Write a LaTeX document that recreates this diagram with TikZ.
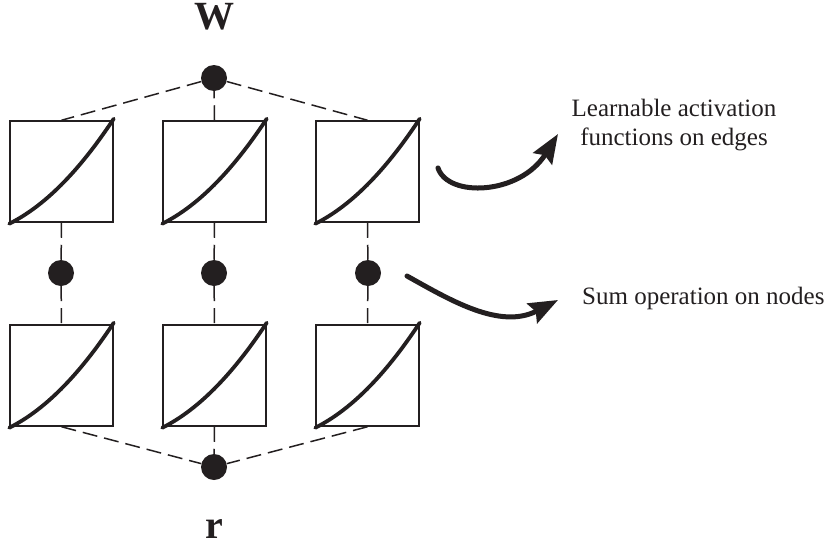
\documentclass[tikz,border=0pt]{standalone}
\usepackage{fontspec}
\setmainfont{Liberation Serif}
\usetikzlibrary{arrows.meta,calc}
\definecolor{ink}{RGB}{35,31,32}
\begin{document}
\begin{tikzpicture}[x=1pt,y=-1pt,
  every node/.style={text=ink},
  fbox/.style={draw=ink,line width=1.5pt,minimum width=103pt,minimum height=101pt,inner sep=0pt},
  dot/.style={circle,fill=ink,minimum size=26pt,inner sep=0pt},
  link/.style={draw=ink,line width=1.5pt,dash pattern=on 15pt off 7pt},
  fn/.style={draw=ink,line width=3.8pt,line cap=round},
  bigarrow/.style={draw=ink,line width=5pt,line cap=round,-{Stealth[length=29pt,width=22pt,inset=4pt]}},
  lbl/.style={font=\fontsize{25}{29}\selectfont},
  var/.style={font=\fontsize{40}{48}\selectfont\bfseries,inner sep=0pt,text height=27pt,text depth=0pt}]
\useasboundingbox (0,0) rectangle (826,546);
% boxes
\node[fbox] (t1) at (61.5,171.5) {};
\node[fbox] (t2) at (214.5,171.5) {};
\node[fbox] (t3) at (367.5,171.5) {};
\node[fbox] (b1) at (61.5,375.5) {};
\node[fbox] (b2) at (214.5,375.5) {};
\node[fbox] (b3) at (367.5,375.5) {};
% dots
\node[dot] (w) at (214,78) {};
\node[dot] (m1) at (61,273) {};
\node[dot] (m2) at (214,273) {};
\node[dot] (m3) at (368,273) {};
\node[dot] (r) at (214,467) {};
% curves
\foreach \b in {t1,t2,t3,b1,b2,b3}{
  \draw[fn] ($(\b.south west)+(0,1)$) .. controls ($(\b.south west)+(34.3,-16.2)$) and ($(\b.south west)+(68.7,-49.8)$) .. ($(\b.north east)+(0,-1.5)$);
}
% links
\draw[link] (w) -- (t1.north);
\draw[link] (w) -- (t3.north);
\draw[link] (t2.north) -- (w);
\foreach \i in {1,2,3}{
  \draw[link] (t\i.south) -- (m\i);
  \draw[link] (m\i) -- (b\i.north);
}
\draw[link] (b1.south) -- (r);
\draw[link] (b3.south) -- (r);
\draw[link] (b2.south) -- (r);
% labels
\node[var,anchor=base] (wl) at (214,29.5) {W};
\node[var,anchor=base] (rl) at (214,538) {r};
\node[lbl,align=center,anchor=base] (la) at (674,145) {Learnable activation\\functions on edges};
\node[lbl,anchor=base west,inner sep=0pt] (ls) at (582,304) {Sum operation on nodes};
% arrows
\coordinate (a1s) at (438,168);
\coordinate (a1e) at (558,134);
\coordinate (a2s) at (407,276);
\coordinate (a2e) at (558,300);
\draw[bigarrow] (a1s) .. controls (448,198) and (520,195) .. (a1e);
\draw[bigarrow] (a2s) .. controls (450,300) and (500,330) .. (a2e);
\end{tikzpicture}
\end{document}
